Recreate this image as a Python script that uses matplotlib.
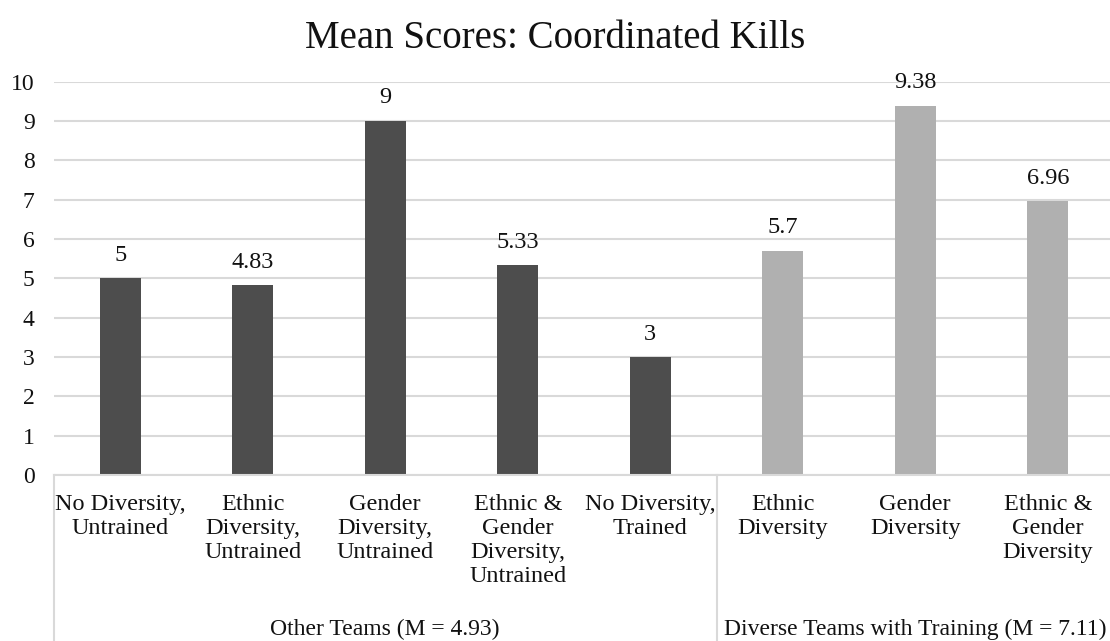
import matplotlib
matplotlib.use("Agg")
import matplotlib.pyplot as plt
from matplotlib.transforms import blended_transform_factory
from matplotlib.lines import Line2D

plt.rcParams['font.family'] = ['Liberation Serif', 'DejaVu Serif']

title = "Mean Scores: Coordinated Kills"
categories = [
    "No Diversity,\nUntrained",
    "Ethnic\nDiversity,\nUntrained",
    "Gender\nDiversity,\nUntrained",
    "Ethnic &\nGender\nDiversity,\nUntrained",
    "No Diversity,\nTrained",
    "Ethnic\nDiversity",
    "Gender\nDiversity",
    "Ethnic &\nGender\nDiversity",
]
values = [5, 4.83, 9, 5.33, 3, 5.7, 9.38, 6.96]
value_labels = ["5", "4.83", "9", "5.33", "3", "5.7", "9.38", "6.96"]
groups = ["Other Teams (M = 4.93)", "Diverse Teams with Training (M = 7.11)"]
group_sizes = [5, 3]
group_colors = ["#4d4d4d", "#b0b0b0"]
yticks = list(range(0, 11))

W, H = 1110, 641
fig = plt.figure(figsize=(W / 100, H / 100), dpi=100)
left, right = 54, 1114
y0, y10 = 475, 81.5
ax = fig.add_axes([left / W, (H - y0) / H, (right - left) / W, (y0 - y10) / H])

colors = []
for g, n in enumerate(group_sizes):
    colors += [group_colors[g]] * n

x = list(range(len(values)))
ax.bar(x, values, width=0.31, color=colors, zorder=3)
ax.set_xlim(-0.5, len(values) - 0.5)
ax.set_ylim(0, 10)
ax.set_yticks(yticks)
ax.tick_params(axis='y', length=0, pad=14, labelsize=17, labelcolor='#111111')
ax.tick_params(axis='x', length=0, labelbottom=False)
ax.yaxis.grid(True, color='#d9d9d9', linewidth=1.5, zorder=0)
for s in ['top', 'right', 'left']:
    ax.spines[s].set_visible(False)
ax.spines['bottom'].set_color('#d9d9d9')
ax.spines['bottom'].set_linewidth(1.5)
ax.spines['bottom'].set_zorder(4)

for xi, v, lab in zip(x, values, value_labels):
    ax.annotate(lab, (xi, v), xytext=(0, 16.5), textcoords='offset points',
                ha='center', va='center', fontsize=17.5, color='#111111')

trans = blended_transform_factory(ax.transData, ax.transAxes)
for xi, cat in zip(x, categories):
    ax.annotate(cat, (xi, 0), xycoords=trans, xytext=(0, -14), textcoords='offset points',
                ha='center', va='top', fontsize=17.5, linespacing=1.17, color='#111111',
                annotation_clip=False)

# group labels and separators
start = 0
bottom_frac = -(H - y0) / (y0 - y10)
for g, n in enumerate(group_sizes):
    center = start + (n - 1) / 2
    ax.annotate(groups[g], (center, 0), xycoords=trans, xytext=(0, -(629 - y0) * 0.72),
                textcoords='offset points', ha='center', va='center', fontsize=17,
                color='#111111', annotation_clip=False)
    start += n
bounds = [-0.5]
acc = -0.5
for n in group_sizes:
    acc += n
    bounds.append(acc)
for b in bounds:
    ax.add_line(Line2D([b, b], [0, bottom_frac], transform=trans, color='#d9d9d9',
                       linewidth=1.5, clip_on=False))

fig.text(0.5, (H - 38) / H, title, ha='center', va='center', fontsize=28, color='#111111')

fig.savefig("out.png", dpi=100)
